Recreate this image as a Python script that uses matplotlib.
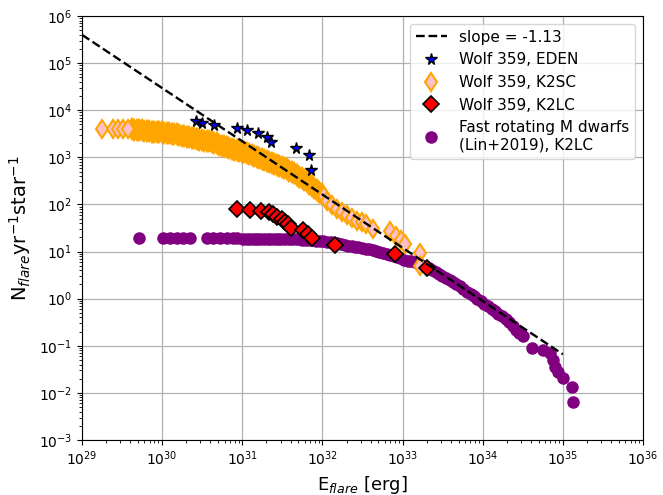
import matplotlib
matplotlib.use('Agg')
import matplotlib.pyplot as plt
import numpy as np

# Values, stored as log10(E [erg]) and log10(N [/yr/star])

# Wolf 359, EDEN (stars)
eden_logE = [30.419, 30.494, 30.651, 30.930, 31.055, 31.200, 31.312, 31.358, 31.667, 31.833, 31.854]
eden_logN = [3.771, 3.735, 3.686, 3.629, 3.580, 3.510, 3.425, 3.332, 3.204, 3.049, 2.731]

# Wolf 359, K2SC (thin diamonds): isolated low-energy points, dense band, sparse tail
k2sc_logE = [29.246, 29.383, 29.453, 29.515, 29.578,
             29.620, 29.651, 29.682, 29.714, 29.745, 29.776, 29.807, 29.838, 29.870, 29.901,
             29.932, 29.963, 29.994, 30.026, 30.057, 30.088, 30.119, 30.150, 30.182, 30.213,
             30.244, 30.275, 30.307, 30.338, 30.369, 30.400, 30.431, 30.463, 30.494, 30.525,
             30.556, 30.587, 30.619, 30.650, 30.681, 30.712, 30.743, 30.775, 30.806, 30.837,
             30.868, 30.900, 30.931, 30.962, 30.993, 31.024, 31.056, 31.087, 31.118, 31.149,
             31.180, 31.212, 31.243, 31.274, 31.305, 31.336, 31.368, 31.399, 31.430, 31.461,
             31.493, 31.524, 31.555, 31.586, 31.617, 31.649, 31.680, 31.711, 31.742, 31.773,
             31.805, 31.836, 31.867, 31.898, 31.929, 31.961, 31.992,
             32.020, 32.057, 32.120, 32.182, 32.245, 32.307, 32.369, 32.432, 32.494, 32.544,
             32.631, 32.843, 32.918, 32.981, 33.030, 33.218, 33.218]
k2sc_logN = [3.600, 3.600, 3.600, 3.600, 3.595,
             3.591, 3.584, 3.580, 3.576, 3.570, 3.565, 3.559, 3.555, 3.548, 3.544,
             3.538, 3.533, 3.527, 3.523, 3.516, 3.506, 3.495, 3.491, 3.485, 3.474,
             3.463, 3.449, 3.432, 3.421, 3.410, 3.400, 3.389, 3.378, 3.368, 3.357,
             3.347, 3.336, 3.325, 3.311, 3.294, 3.272, 3.251, 3.230, 3.209, 3.194,
             3.177, 3.162, 3.145, 3.130, 3.113, 3.103, 3.092, 3.071, 3.049, 3.028,
             3.007, 2.986, 2.965, 2.943, 2.922, 2.901, 2.880, 2.858, 2.837, 2.816,
             2.795, 2.769, 2.742, 2.716, 2.689, 2.657, 2.625, 2.593, 2.561, 2.525,
             2.487, 2.444, 2.402, 2.355, 2.307, 2.264, 2.222,
             2.180, 2.073, 1.988, 1.903, 1.839, 1.776, 1.712, 1.648, 1.627, 1.585,
             1.479, 1.436, 1.330, 1.245, 1.160, 0.969, 0.693]
# the densely packed part of the K2SC distribution (overlapping markers)
band = slice(5, 82)

# Wolf 359, K2LC (red diamonds)
k2lc_logE = [30.938, 31.096, 31.234, 31.337, 31.387, 31.437, 31.492, 31.533, 31.567, 31.608,
             31.761, 31.824, 31.866, 32.157, 32.906, 33.309]
k2lc_logN = [1.903, 1.888, 1.861, 1.833, 1.791, 1.740, 1.691, 1.634, 1.578, 1.493,
             1.457, 1.366, 1.281, 1.139, 0.948, 0.657]

# Fast rotating M dwarfs (Lin+2019), K2LC
lin_logE = [29.711, 30.014, 30.098, 30.182, 30.264, 30.348, 30.564, 30.635, 30.722, 30.809,
            30.884, 30.934,
            31.009, 31.053, 31.096, 31.140, 31.184, 31.227, 31.271, 31.315, 31.358, 31.402,
            31.446, 31.489, 31.533, 31.577, 31.620, 31.664, 31.708, 31.751, 31.795, 31.839,
            31.882, 31.926, 31.970, 32.013, 32.057, 32.101, 32.145, 32.188, 32.232, 32.276,
            32.319, 32.363, 32.407, 32.450, 32.494, 32.538, 32.581, 32.625, 32.669, 32.712,
            32.756, 32.800, 32.843, 32.887, 32.931, 32.974, 33.018, 33.062, 33.105, 33.149,
            33.193, 33.236, 33.280, 33.324, 33.367, 33.411, 33.455, 33.498, 33.542, 33.586,
            33.629, 33.673, 33.717, 33.760, 33.804, 33.848, 33.891, 33.935, 33.979, 34.022,
            34.066, 34.110, 34.154, 34.197, 34.241, 34.285, 34.328, 34.372, 34.416, 34.459,
            34.503,
            34.611, 34.756, 34.840, 34.877, 34.902, 34.940, 35.002, 35.111, 35.131]
lin_logN = [1.281, 1.281, 1.281, 1.281, 1.281, 1.281, 1.281, 1.281, 1.281, 1.281,
            1.281, 1.281,
            1.277, 1.277, 1.277, 1.277, 1.277, 1.277, 1.277, 1.277, 1.277, 1.277,
            1.277, 1.272, 1.266, 1.266, 1.266, 1.261, 1.256, 1.250, 1.245, 1.240,
            1.235, 1.230, 1.224, 1.214, 1.203, 1.193, 1.182, 1.171, 1.160, 1.144,
            1.128, 1.118, 1.107, 1.091, 1.075, 1.060, 1.044, 1.028, 1.012, 0.990,
            0.969, 0.948, 0.927, 0.905, 0.884, 0.857, 0.831, 0.810, 0.789, 0.773,
            0.757, 0.725, 0.693, 0.656, 0.619, 0.576, 0.534, 0.491, 0.449, 0.406,
            0.364, 0.316, 0.269, 0.210, 0.152, 0.104, 0.056, 0.003, -0.050, -0.103,
            -0.156, -0.209, -0.262, -0.315, -0.368, -0.431, -0.495, -0.575, -0.655, -0.729,
            -0.803,
            -1.054, -1.090, -1.153, -1.302, -1.444, -1.550, -1.684, -1.869, -2.187]

# power-law fit: log N = intercept + slope * log E
slope = -1.13
intercept = 38.37
fit_logE_range = [29.0, 35.0]

fig, ax = plt.subplots(figsize=(6.63, 4.95), dpi=100)
fig.subplots_adjust(left=0.1237, right=0.9698, top=0.9677, bottom=0.1111)

E_fit = np.logspace(fit_logE_range[0], fit_logE_range[1], 50)
N_fit = 10**intercept * E_fit**slope

sc_E = 10**np.array(k2sc_logE)
sc_N = 10**np.array(k2sc_logN)

h_lin, = ax.plot(10**np.array(lin_logE), 10**np.array(lin_logN), 'o', color='purple',
                 markersize=8, linestyle='none', label='Fast rotating M dwarfs\n(Lin+2019), K2LC', zorder=2)
# overlapping band: only the orange edges remain visible there
ax.plot(sc_E[band], sc_N[band], 'd', markerfacecolor='pink', markeredgecolor='orange',
        markeredgewidth=3.2, markersize=8, linestyle='none', zorder=3)
h_k2sc, = ax.plot(sc_E, sc_N, 'd', markerfacecolor='pink', markeredgecolor='orange',
                  markeredgewidth=1.5, markersize=9.5, linestyle='none',
                  label='Wolf 359, K2SC', zorder=3)
h_k2sc.set_markevery([i for i in range(len(k2sc_logE)) if not (band.start <= i < band.stop)])
h_k2lc, = ax.plot(10**np.array(k2lc_logE), 10**np.array(k2lc_logN), 'D', markerfacecolor='red',
                  markeredgecolor='black', markeredgewidth=1.2, markersize=8, linestyle='none',
                  label='Wolf 359, K2LC', zorder=4)
h_eden, = ax.plot(10**np.array(eden_logE), 10**np.array(eden_logN), '*', markerfacecolor='blue',
                  markeredgecolor='black', markeredgewidth=1.0, markersize=8.5, linestyle='none',
                  label='Wolf 359, EDEN', zorder=4)
h_fit, = ax.plot(E_fit, N_fit, '--', color='black', linewidth=1.7, label=f'slope = {slope}', zorder=5)

ax.set_xscale('log')
ax.set_yscale('log')
ax.set_xlim(1e29, 1e36)
ax.set_ylim(1e-3, 1e6)
ax.grid(True, which='major', color='#b0b0b0', linewidth=0.9)
ax.set_axisbelow(True)
ax.tick_params(labelsize=10)

ax.set_xlabel(r'E$_{flare}$ [erg]', fontsize=13)
ax.set_ylabel(r'N$_{flare}$yr$^{-1}$star$^{-1}$', fontsize=14)

ax.legend(handles=[h_fit, h_eden, h_k2sc, h_k2lc, h_lin], loc='upper right', fontsize=11)

plt.savefig('out.png', dpi=100)
plt.close()
